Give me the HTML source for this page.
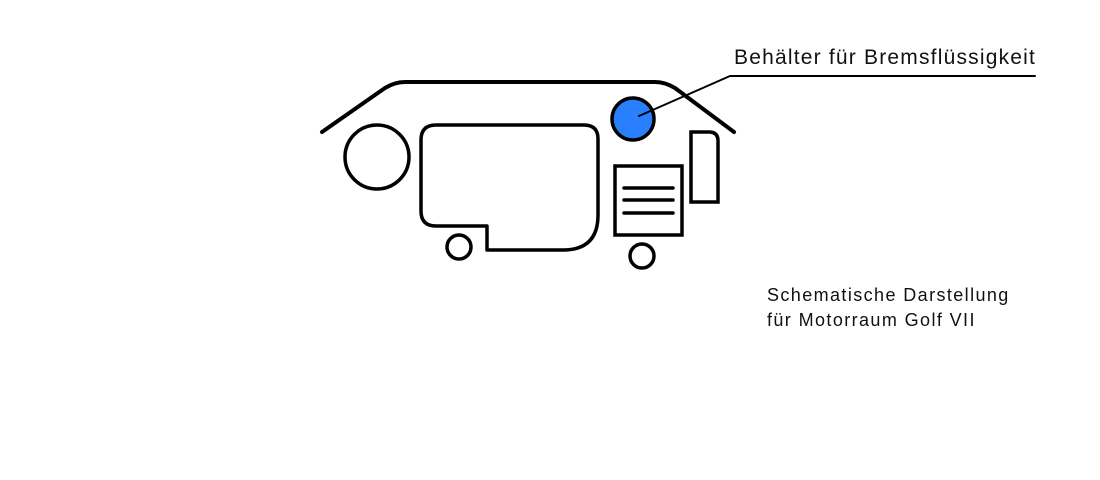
<!DOCTYPE html>
<html><head><meta charset="utf-8"><style>
html,body{margin:0;padding:0;background:#fff;}
body{width:1100px;height:480px;position:relative;overflow:hidden;font-family:"Liberation Sans",sans-serif;}
.t{position:absolute;color:#111;white-space:nowrap;}
</style></head><body>
<svg width="1100" height="480" style="position:absolute;left:0;top:0" fill="none" stroke="#000" stroke-linecap="round" stroke-linejoin="round">
<path d="M322,132 L385,88 Q395,82 405,82 L655,82 Q665,82 675,88 L734,132" stroke-width="4"/>
<circle cx="377" cy="157" r="32" stroke-width="3.5"/>
<path d="M436,125 L584,125 Q598,125 598,139 L598,215 Q598,250 563,250 L487,250 L487,226 L436,226 Q421,226 421,211 L421,140 Q421,125 436,125 Z" stroke-width="3.5"/>
<circle cx="459" cy="247" r="12" stroke-width="3.5"/>
<circle cx="642" cy="256" r="12" stroke-width="3.5"/>
<rect x="615" y="166" width="67" height="69" stroke-width="3.5" stroke-linejoin="miter"/>
<path d="M624,188 H673 M624,200 H673 M624,213 H673" stroke-width="3.5"/>
<path d="M691,132 L709,132 Q718,132 718,141 L718,202 L691,202 Z" stroke-width="3.5" stroke-linejoin="miter"/>
<circle cx="633" cy="119" r="21" fill="#2a7fff" stroke-width="3.5"/>
<path d="M639,116 L730,76 L1035,76" stroke-width="2"/>
</svg>
<div class="t" style="left:734px;top:46px;font-size:21px;letter-spacing:1.2px;">Behälter für Bremsflüssigkeit</div>
<div class="t" style="left:767px;top:283px;font-size:18px;line-height:25px;letter-spacing:1.4px;">Schematische Darstellung<br>für Motorraum Golf VII</div>
</body></html>
